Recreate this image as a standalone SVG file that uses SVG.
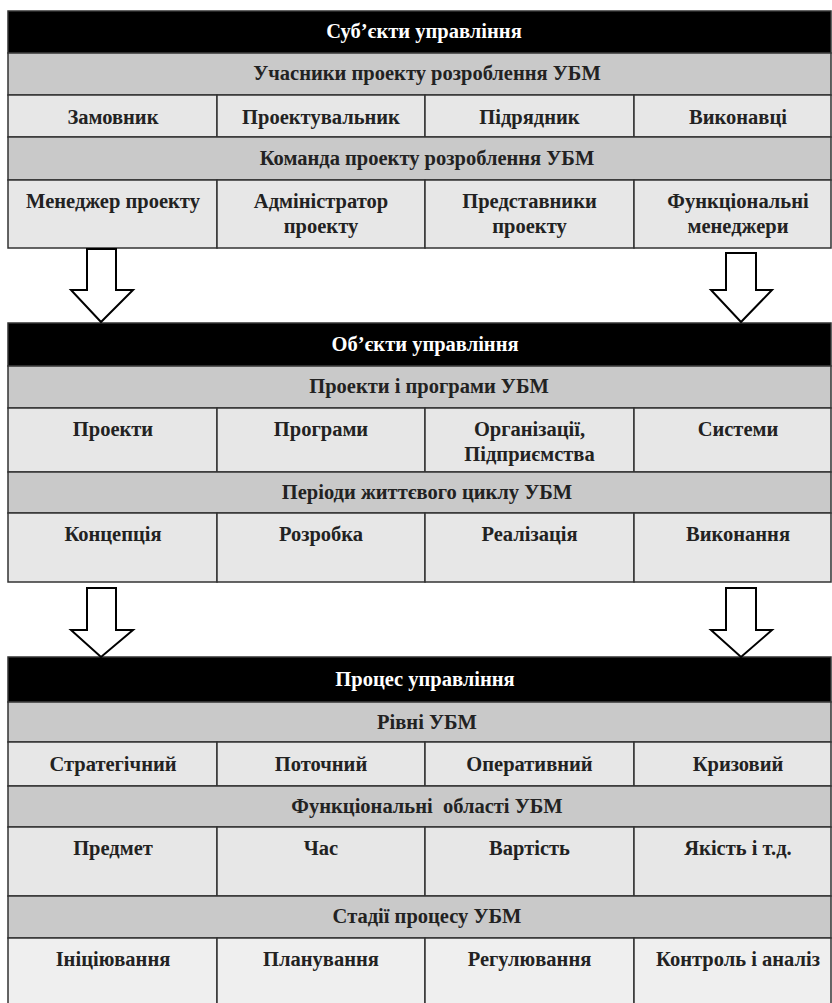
<svg xmlns="http://www.w3.org/2000/svg" width="832" height="1003" viewBox="0 0 832 1003">
<style>
.blk{fill:#000;stroke:#333;stroke-width:1.5}
.hdr{fill:#c9c9c9;stroke:#333;stroke-width:1.5}
.cell{fill:#e7e7e7;stroke:#333;stroke-width:1.5}
.cell2{fill:#efefef;stroke:#333;stroke-width:1.5}
text{font-family:"Liberation Serif","Times New Roman",serif;font-weight:bold;font-size:20.5px;text-anchor:middle;fill:#222}
.wt{fill:#fff}
.arrow{fill:#fff;stroke:#000;stroke-width:2;stroke-linejoin:miter}
</style>
<rect width="832" height="1003" fill="#fff"/>

<!-- Section 1 -->
<g id="subjects-title"><rect class="blk" x="8" y="11" width="823" height="42"/><text class="wt" x="424" y="38">Суб’єкти управління</text></g>
<g id="participants"><rect class="hdr" x="8" y="53" width="823" height="42"/><text x="427" y="80">Учасники проекту розроблення УБМ</text></g>
<g id="customer"><rect class="cell" x="8" y="95" width="209" height="42"/><text x="113" y="124">Замовник</text></g>
<g id="designer"><rect class="cell" x="217" y="95" width="208" height="42"/><text x="321" y="124">Проектувальник</text></g>
<g id="contractor"><rect class="cell" x="425" y="95" width="209" height="42"/><text x="529.5" y="124">Підрядник</text></g>
<g id="performers"><rect class="cell" x="634" y="95" width="197" height="42"/><text x="738" y="124">Виконавці</text></g>
<g id="team"><rect class="hdr" x="8" y="137" width="823" height="43"/><text x="427" y="165">Команда проекту розроблення УБМ</text></g>
<g id="pm"><rect class="cell" x="8" y="180" width="209" height="68"/><text x="113" y="208">Менеджер проекту</text></g>
<g id="admin"><rect class="cell" x="217" y="180" width="208" height="68"/><text x="321" y="208">Адміністратор</text><text x="321" y="233">проекту</text></g>
<g id="reps"><rect class="cell" x="425" y="180" width="209" height="68"/><text x="529.5" y="208">Представники</text><text x="529.5" y="233">проекту</text></g>
<g id="funcmgr"><rect class="cell" x="634" y="180" width="197" height="68"/><text x="738" y="208">Функціональні</text><text x="738" y="233">менеджери</text></g>

<!-- Section 2 -->
<g id="objects-title"><rect class="blk" x="8" y="323" width="823" height="43"/><text class="wt" x="425" y="351">Об’єкти управління</text></g>
<g id="projects-programs"><rect class="hdr" x="8" y="366" width="823" height="42"/><text x="429" y="393">Проекти і програми УБМ</text></g>
<g id="projects"><rect class="cell" x="8" y="408" width="209" height="64"/><text x="113" y="436">Проекти</text></g>
<g id="programs"><rect class="cell" x="217" y="408" width="208" height="64"/><text x="321" y="436">Програми</text></g>
<g id="orgs"><rect class="cell" x="425" y="408" width="209" height="64"/><text x="529.5" y="436">Організації,</text><text x="529.5" y="461">Підприємства</text></g>
<g id="systems"><rect class="cell" x="634" y="408" width="197" height="64"/><text x="738" y="436">Системи</text></g>
<g id="lifecycle"><rect class="hdr" x="8" y="472" width="823" height="41"/><text x="427" y="499">Періоди життєвого циклу УБМ</text></g>
<g id="concept"><rect class="cell" x="8" y="513" width="209" height="69"/><text x="113" y="541">Концепція</text></g>
<g id="development"><rect class="cell" x="217" y="513" width="208" height="69"/><text x="321" y="541">Розробка</text></g>
<g id="realization"><rect class="cell" x="425" y="513" width="209" height="69"/><text x="529.5" y="541">Реалізація</text></g>
<g id="execution"><rect class="cell" x="634" y="513" width="197" height="69"/><text x="738" y="541">Виконання</text></g>

<!-- Section 3 -->
<g id="process-title"><rect class="blk" x="8" y="657" width="823" height="45"/><text class="wt" x="425" y="686">Процес управління</text></g>
<g id="levels"><rect class="hdr" x="8" y="702" width="823" height="40"/><text x="427" y="729">Рівні УБМ</text></g>
<g id="strategic"><rect class="cell" x="8" y="742" width="209" height="44"/><text x="113" y="771">Стратегічний</text></g>
<g id="current"><rect class="cell" x="217" y="742" width="208" height="44"/><text x="321" y="771">Поточний</text></g>
<g id="operative"><rect class="cell" x="425" y="742" width="209" height="44"/><text x="529.5" y="771">Оперативний</text></g>
<g id="crisis"><rect class="cell" x="634" y="742" width="197" height="44"/><text x="738" y="771">Кризовий</text></g>
<g id="areas"><rect class="hdr" x="8" y="786" width="823" height="41"/><text x="427" y="813" style="white-space:pre">Функціональні  області УБМ</text></g>
<g id="scope"><rect class="cell" x="8" y="827" width="209" height="69"/><text x="113" y="855">Предмет</text></g>
<g id="time"><rect class="cell" x="217" y="827" width="208" height="69"/><text x="321" y="855">Час</text></g>
<g id="cost"><rect class="cell" x="425" y="827" width="209" height="69"/><text x="529.5" y="855">Вартість</text></g>
<g id="quality"><rect class="cell" x="634" y="827" width="197" height="69"/><text x="738" y="855">Якість і т.д.</text></g>
<g id="stages"><rect class="hdr" x="8" y="896" width="823" height="42"/><text x="427" y="923">Стадії процесу УБМ</text></g>
<g id="initiation"><rect class="cell2" x="8" y="938" width="209" height="80"/><text x="113" y="966">Ініціювання</text></g>
<g id="planning"><rect class="cell2" x="217" y="938" width="208" height="80"/><text x="321" y="966">Планування</text></g>
<g id="regulation"><rect class="cell2" x="425" y="938" width="209" height="80"/><text x="529.5" y="966">Регулювання</text></g>
<g id="control"><rect class="cell2" x="634" y="938" width="197" height="80"/><text x="738" y="966">Контроль і аналіз</text></g>

<!-- Connectors -->
<g id="connectors">
<polygon class="arrow" points="87,249 116,249 116,290 133,290 101,322 71,290 87,290"/>
<polygon class="arrow" points="726,253 756,253 756,290 772,290 741,322 711,290 726,290"/>
<polygon class="arrow" points="87,588 116,588 116,630 133,630 101,657 71,630 87,630"/>
<polygon class="arrow" points="726,588 756,588 756,630 772,630 741,657 711,630 726,630"/>
</g>
</svg>
